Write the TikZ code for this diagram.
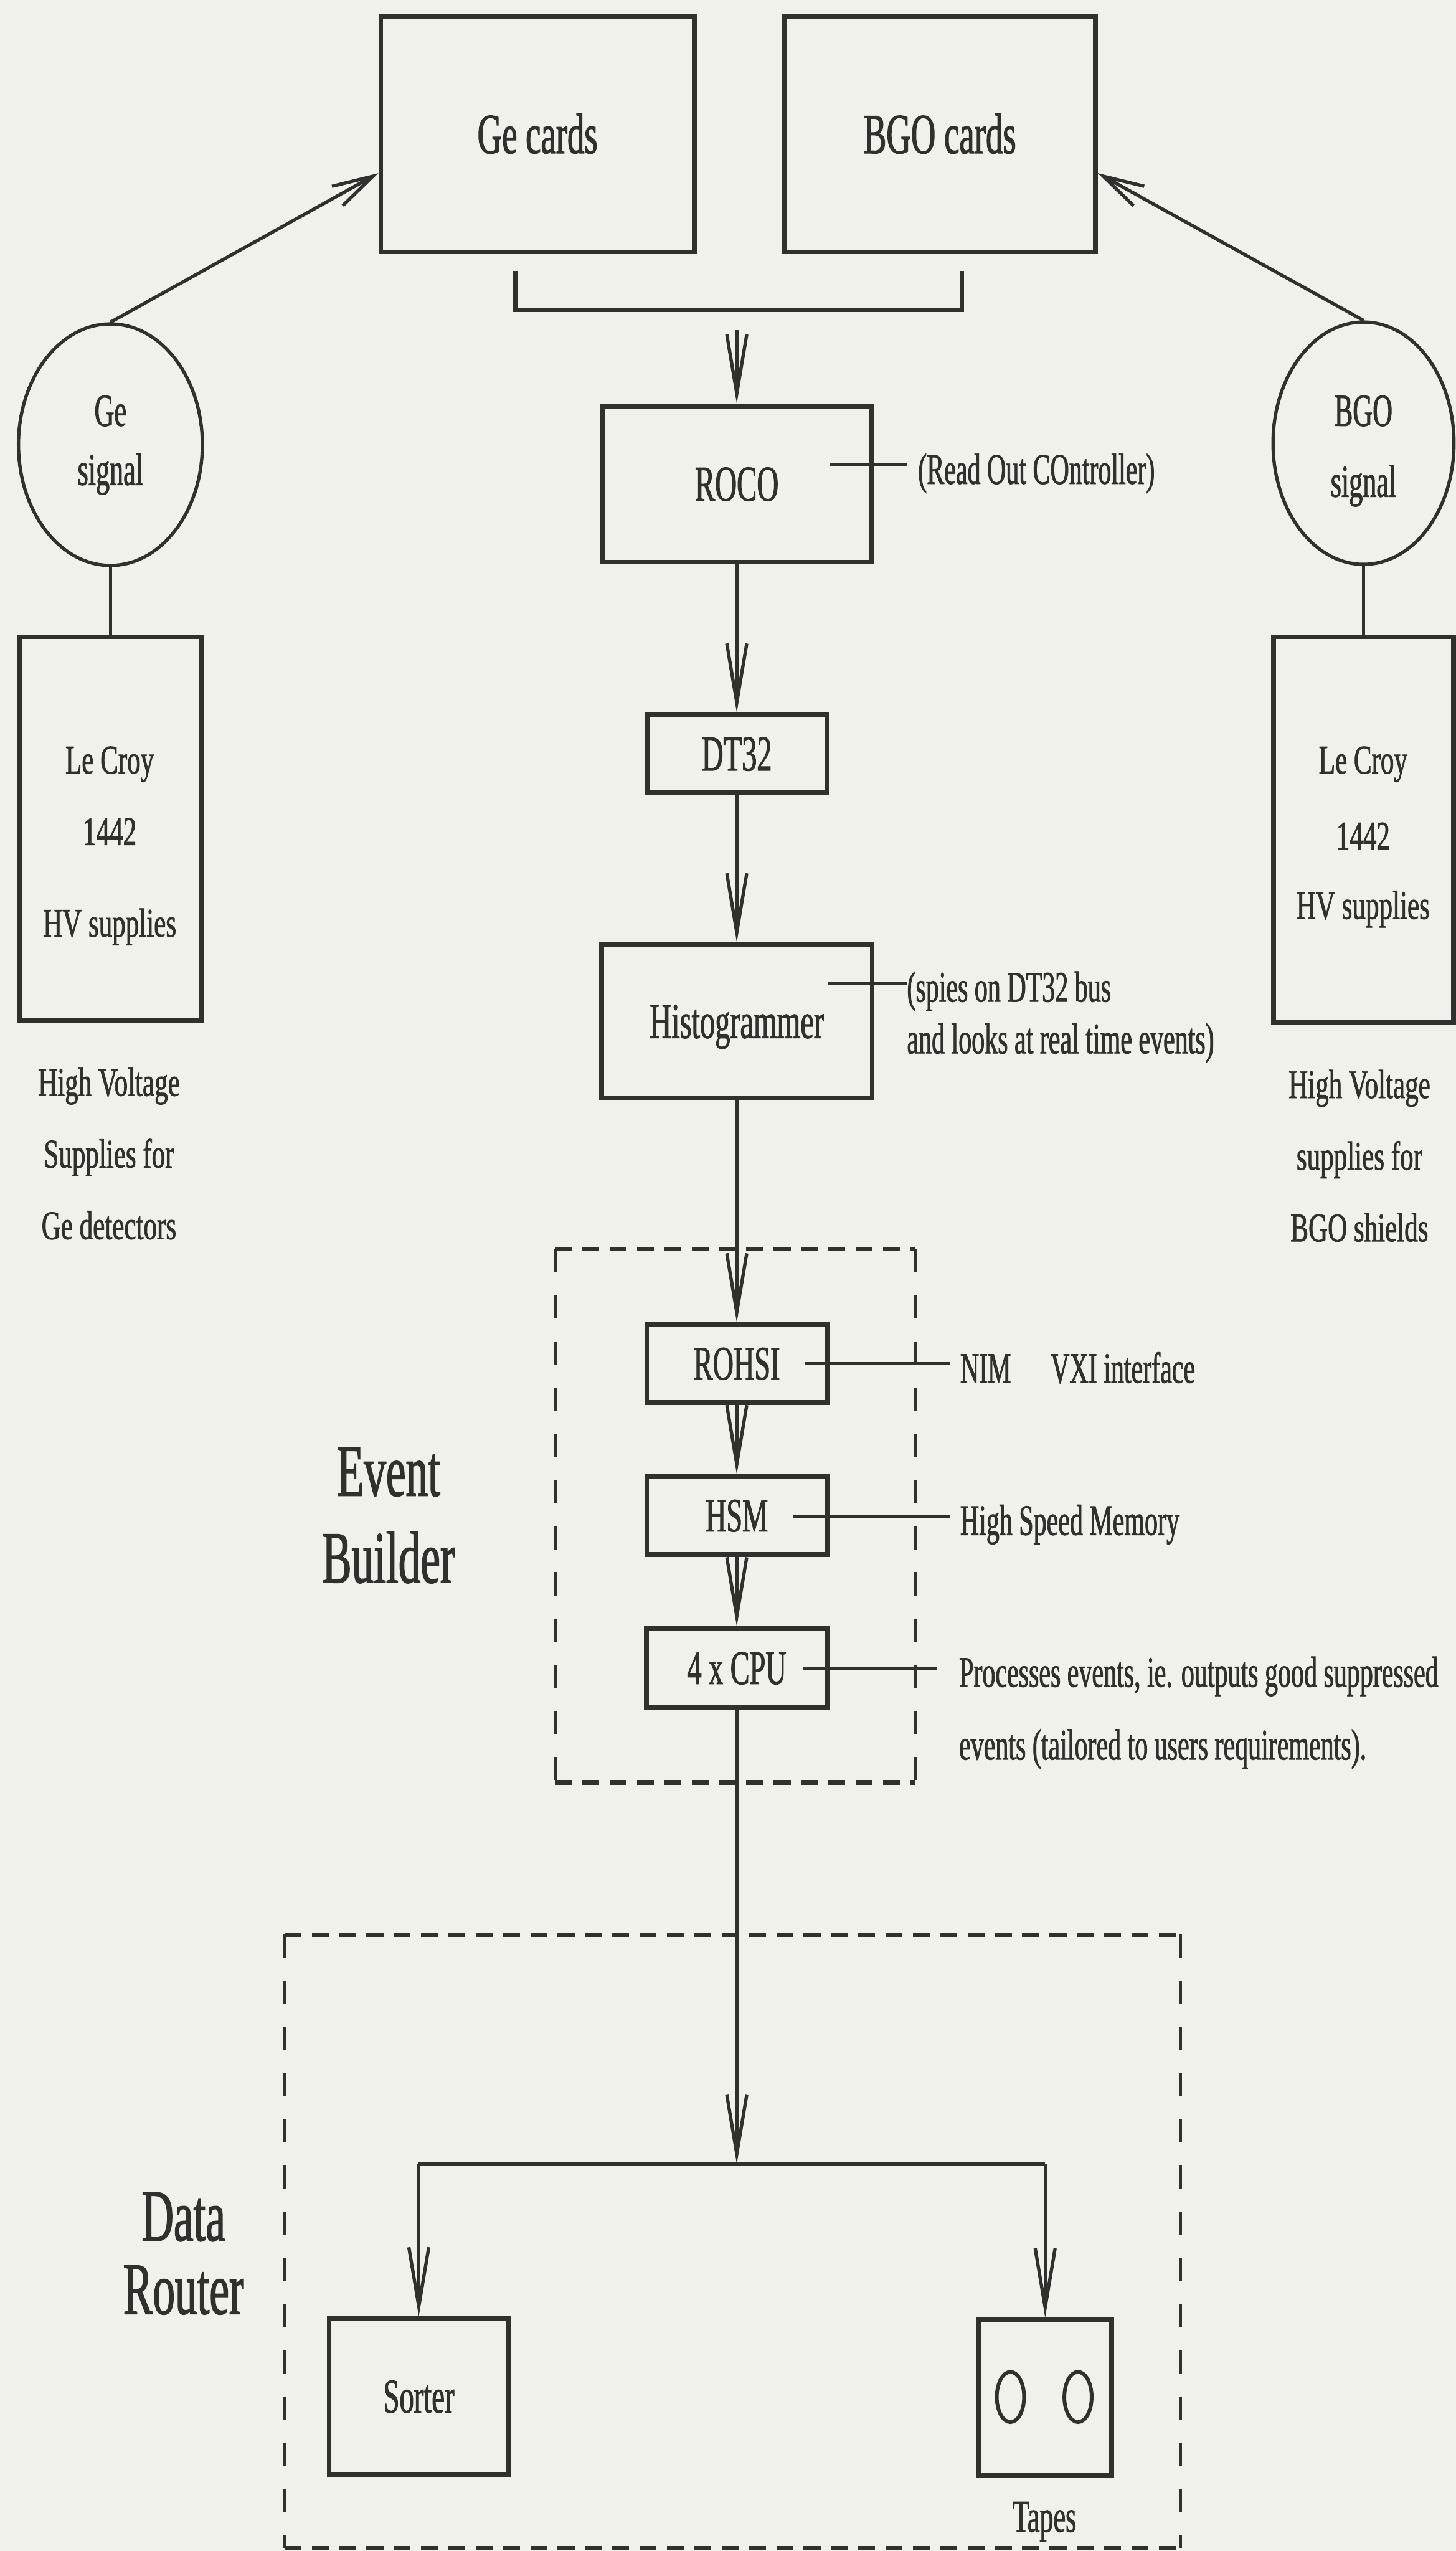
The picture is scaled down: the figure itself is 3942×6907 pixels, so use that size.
\documentclass[tikz,border=0pt]{standalone}
\usepackage{fontspec}
\setmainfont{Liberation Serif}[FakeStretch=0.6,FakeBold=1.2]
\newfontfamily\lcfont{Liberation Serif}[FakeStretch=0.66,FakeBold=1.2]
\usetikzlibrary{arrows.meta,shapes.geometric}
\definecolor{paper}{RGB}{241,241,235}
\definecolor{ink}{RGB}{48,48,44}
\begin{document}
\begin{tikzpicture}[x=0.1pt,y=-0.1pt,
  box/.style={draw=ink, line width=1.3pt, inner sep=0pt, text=ink, text depth=0pt},
  cardbox/.style={box, font=\fontsize{15.4}{18}\selectfont, text height=10.2pt},
  midbox/.style={box, font=\fontsize{13.6}{16}\selectfont, text height=9pt},
  smbox/.style={box, font=\fontsize{13}{16}\selectfont, text height=8.6pt},
  conn/.style={draw=ink, line width=0.9pt},
  arr/.style={conn, -{Straight Barb[length=16pt,width=5.4pt]}},
  arrd/.style={conn, -{Straight Barb[length=11pt,width=6pt]}},
  txt/.style={inner sep=0pt, text=ink, anchor=base},
  side/.style={txt, anchor=base west, font=\fontsize{11.8}{14}\selectfont},
  lc/.style={txt, font=\lcfont\fontsize{11}{13}\selectfont},
  big/.style={txt, font=\fontsize{20}{24}\selectfont},
  sig/.style={txt, font=\fontsize{12.4}{15}\selectfont},
  sigcirc/.style={ellipse, draw=ink, line width=0.9pt, inner sep=0pt},
  dashV/.style={draw=ink, line width=0.9pt, dash pattern=on 6.3pt off 6.2pt},
  dashH/.style={draw=ink, line width=1.2pt, dash pattern=on 4.6pt off 2.8pt},
]
\fill[paper] (0,0) rectangle (3942,6907);
\useasboundingbox (0,0) rectangle (3942,6907);

% ---- top cards
\node[cardbox, minimum width=84.9pt, minimum height=63.6pt] (gecards) at (1455.5,364) {Ge cards};
\node[cardbox, minimum width=84.2pt, minimum height=63.6pt] (bgocards) at (2545,364) {BGO cards};

% bracket under the cards
\coordinate (brL) at (1395,733);
\coordinate (brR) at (2604,733);
\draw[conn, line width=1.2pt] (brL) -- (1395,839) -- (2604,839) -- (brR);
\coordinate (busout) at (1995,893);

% ---- signal circles
\node[sigcirc, minimum width=49.8pt, minimum height=65.4pt] (gesig) at (299,1204) {};
\node[sig] (gesigA) at (299,1153) {Ge};
\node[sig] (gesigB) at (299,1313) {signal};
\node[sigcirc, minimum width=49pt, minimum height=65.6pt] (bgosig) at (3692,1200) {};
\node[sig] (bgosigA) at (3692,1153) {BGO};
\node[sig] (bgosigB) at (3692,1345) {signal};

\draw[arrd] (gesig.north) -- ([yshift=-10.5pt]gecards.west);
\draw[arrd] (bgosig.north) -- ([yshift=-10.5pt]bgocards.east);

% ---- Le Croy boxes
\node[box, minimum width=49.2pt, minimum height=104pt] (lcl) at (299,2244) {};
\node[lc] (lclA) at (297,2094) {Le Croy};
\node[lc] (lclB) at (297,2288) {1442};
\node[lc] (lclC) at (297,2536) {HV supplies};
\node[box, minimum width=48.8pt, minimum height=104.3pt] (lcr) at (3692,2245.5) {};
\node[lc] (lcrA) at (3691,2094) {Le Croy};
\node[lc] (lcrB) at (3691,2300) {1442};
\node[lc] (lcrC) at (3691,2488) {HV supplies};
\draw[conn] (gesig.south) -- (lcl.north);
\draw[conn] (bgosig.south) -- (lcr.north);

\node[lc] (hvlA) at (295,2967) {High Voltage};
\node[lc] (hvlB) at (295,3161) {Supplies for};
\node[lc] (hvlC) at (295,3355) {Ge detectors};
\node[lc] (hvrA) at (3681,2973) {High Voltage};
\node[lc] (hvrB) at (3681,3167) {supplies for};
\node[lc] (hvrC) at (3681,3361) {BGO shields};

% ---- central chain
\node[midbox, minimum width=72.9pt, minimum height=42.3pt] (roco) at (1995,1310.5) {ROCO};
\node[midbox, minimum width=48.7pt, minimum height=21pt] (dt32) at (1995,2041) {DT32};
\node[midbox, minimum width=73.3pt, minimum height=41.5pt] (histo) at (1995,2765.5) {Histogrammer};
\node[smbox, minimum width=48.8pt, minimum height=21pt] (rohsi) at (1995,3692) {ROHSI};
\node[smbox, minimum width=48.8pt, minimum height=21.1pt] (hsm) at (1995,4103.5) {HSM};
\node[smbox, minimum width=48.9pt, minimum height=21.3pt] (cpu) at (1995,4516.5) {4 x CPU};

\draw[arr] (busout) -- (roco.north);
\draw[arr] (roco.south) -- (dt32.north);
\draw[arr] (dt32.south) -- (histo.north);
\draw[arr] (histo.south) -- (rohsi.north);
\draw[arr] (rohsi.south) -- (hsm.north);
\draw[arr] (hsm.south) -- (cpu.north);

% side notes
\coordinate (rocoin) at (2246,1259);
\coordinate (rocoout) at (2456,1259);
\draw[conn] (rocoin) -- (rocoout);
\node[side] (rocolbl) at (2484,1310) {(Read Out COntroller)};

\coordinate (histoin) at (2242,2664);
\coordinate (histoout) at (2456,2664);
\draw[conn] (histoin) -- (histoout);
\node[side] (histolblA) at (2454,2712) {(spies on DT32 bus};
\node[side] (histolblB) at (2454,2852) {and looks at real time events)};

\coordinate (rohsiin) at (2178,3692);
\coordinate (rohsiout) at (2572,3692);
\draw[conn] (rohsiin) -- (rohsiout);
\node[side] (nimlbl) at (2598,3744) {NIM};
\node[side] (vxilbl) at (2843,3744) {VXI interface};

\coordinate (hsmin) at (2146,4105);
\coordinate (hsmout) at (2572,4105);
\draw[conn] (hsmin) -- (hsmout);
\node[side] (hsmlbl) at (2598,4156) {High Speed Memory};

\coordinate (cpuin) at (2173,4517);
\coordinate (cpuout) at (2536,4517);
\draw[conn] (cpuin) -- (cpuout);
\node[side] (cpulblA) at (2595,4567) {Processes events, ie. outputs good suppressed};
\node[side] (cpulblB) at (2595,4764) {events (tailored to users requirements).};

% ---- Event Builder dashed box
\draw[dashV] (1503,3382) -- (1503,4826);
\draw[dashV] (2478,3382) -- (2478,4826);
\draw[dashH] (1503,3382) -- (2478,3382);
\draw[dashH] (1503,4826) -- (2478,4826);
\node[big] (ebA) at (1052,4050) {Event};
\node[big] (ebB) at (1052,4285) {Builder};

% ---- Data Router
\draw[dashV] (770,5238) -- (770,6899);
\draw[dashV] (3196,5238) -- (3196,6899);
\draw[dashH] (770,5238) -- (3196,5238);
\draw[dashH] (770,6899) -- (3196,6899);
\node[big] (drA) at (497,6067) {Data};
\node[big] (drB) at (497,6265) {Router};

\coordinate (junc) at (1995,5859);
\coordinate (jl) at (1134,5859);
\coordinate (jr) at (2830,5859);
\node[box, font=\fontsize{13.1}{16}\selectfont, text height=8.7pt, minimum width=48.6pt, minimum height=42.1pt] (sorter) at (1134,6488.5) {Sorter};
\node[box, minimum width=36.1pt, minimum height=42.1pt] (tapes) at (2830,6491.5) {};
\node[ellipse, draw=ink, line width=1pt, inner sep=0pt, minimum width=7.4pt, minimum height=13.6pt] (reelA) at (2736,6490) {};
\node[ellipse, draw=ink, line width=1pt, inner sep=0pt, minimum width=7.4pt, minimum height=13.6pt] (reelB) at (2919,6490) {};
\node[txt, font=\fontsize{12.4}{15}\selectfont] (tapeslbl) at (2828,6855) {Tapes};

\draw[arr] (cpu.south) -- (junc);
\draw[conn, line width=1.2pt] (jl) -- (jr);
\draw[arr] (jl) -- (sorter.north);
\draw[arr] (jr) -- (tapes.north);
\end{tikzpicture}
\end{document}
